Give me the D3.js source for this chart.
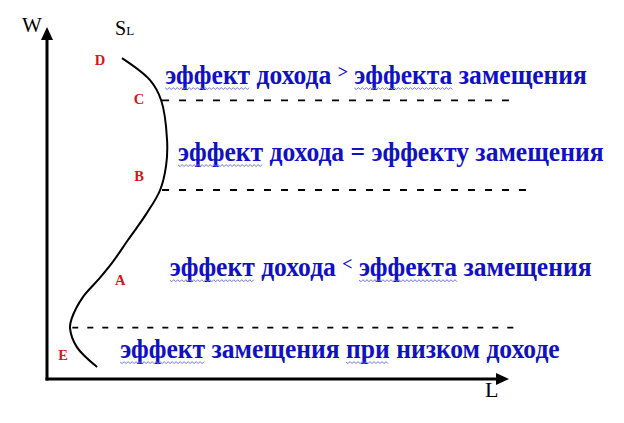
<!DOCTYPE html>
<html><head><meta charset="utf-8">
<script src="https://cdn.jsdelivr.net/npm/d3@7"></script>
<style>html,body{margin:0;padding:0;background:#fff;}svg{display:block;}</style>
</head><body>
<svg id="c" width="624" height="423"></svg>
<script>
// Supply curve S_L (L = labour, W = wage), schematic units
const curveL = [1.63, 2.24, 2.48, 2.61, 2.59, 2.46, 2.17, 1.76, 1.41, 1.11, 0.78, 0.54, 0.50, 0.65, 1.09];
const curveW = [9.17, 8.54, 7.97, 6.83, 6.11, 5.40, 4.74, 3.97, 3.31, 2.83, 2.34, 1.74, 1.46, 0.91, 0.34];

// Point labels on the curve
const pointNames = ["D", "C", "B", "A", "E"];
const pointL = [1.15, 2.00, 2.00, 1.59, 0.35];
const pointW = [9.11, 8.00, 5.80, 2.83, 0.69];

// Dashed threshold levels
const levelW = [7.96, 5.40, 1.47];
const levelStartL = [2.50, 2.50, 0.55];
const levelEndL = [10.15, 10.43, 10.33];

// Region captions (segments; wavy = spell-check underline, sup = raised sign)
const captions = [
  [{t:"эффект", wavy:true}, {t:" дохода "}, {t:">", sup:true}, {t:" "}, {t:"эффекта", wavy:true}, {t:" замещения"}],
  [{t:"эффект", wavy:true}, {t:" дохода = эффекту замещения"}],
  [{t:"эффект", wavy:true}, {t:" дохода "}, {t:"<", sup:true}, {t:" "}, {t:"эффекта", wavy:true}, {t:" замещения"}],
  [{t:"эффект", wavy:true}, {t:" замещения "}, {t:"при", wavy:true}, {t:" низком доходе"}]
];
const captionL = [2.57, 2.85, 2.67, 1.59];
const captionW = [8.43, 6.23, 2.94, 0.60];

const axisLabels = ["W", "L"];

const svg = d3.select("#c");
const x = d3.scaleLinear().domain([0, 10]).range([47, 507]);
const y = d3.scaleLinear().domain([0, 10]).range([379, 29]);
const serif = '"Liberation Serif"';

// Axes
svg.append("line").attr("x1", x(0)).attr("x2", x(0)).attr("y1", y(0) + 1.5).attr("y2", 36)
  .attr("stroke", "#000").attr("stroke-width", 3);
svg.append("line").attr("x1", x(0) - 1.5).attr("x2", 497).attr("y1", y(0)).attr("y2", y(0))
  .attr("stroke", "#000").attr("stroke-width", 3);
svg.append("path").attr("d", `M${x(0)},27 L${x(0)+6},40 L${x(0)-6},40 Z`).attr("fill", "#000");
svg.append("path").attr("d", `M509,${y(0)} L496,${y(0)-6} L496,${y(0)+6} Z`).attr("fill", "#000");

svg.append("text").attr("x", 22).attr("y", 32).style("font-family", serif).attr("font-size", 21).text(axisLabels[0]);
svg.append("text").attr("x", 485).attr("y", 397).style("font-family", serif).attr("font-size", 22).text(axisLabels[1]);
const sl = svg.append("text").attr("x", 115).attr("y", 35).style("font-family", serif).attr("font-size", 20);
sl.append("tspan").text("S");
sl.append("tspan").attr("font-size", 13).text("L");

// Dashed levels
svg.selectAll("line.level").data(levelW).join("line").attr("class", "level")
  .attr("x1", (d, i) => x(levelStartL[i])).attr("x2", (d, i) => x(levelEndL[i]))
  .attr("y1", d => y(d)).attr("y2", d => y(d))
  .attr("stroke", "#000").attr("stroke-width", 1.8)
  .attr("stroke-dasharray", (d, i) => i === 2 ? "6,9" : "7,10");

// Curve
const pts = curveL.map((l, i) => [l, curveW[i]]);
svg.append("path").datum(pts)
  .attr("d", d3.line().x(d => x(d[0])).y(d => y(d[1])).curve(d3.curveCatmullRom.alpha(0.5)))
  .attr("fill", "none").attr("stroke", "#000").attr("stroke-width", 2);

// Point labels
svg.selectAll("text.pt").data(pointNames).join("text").attr("class", "pt")
  .attr("x", (d, i) => x(pointL[i])).attr("y", (d, i) => y(pointW[i]) + 5)
  .attr("text-anchor", "middle")
  .style("font-family", serif).attr("font-weight", "bold").attr("font-size", 14.5)
  .attr("fill", "#d01818").text(d => d);

// Captions
const blue = "#1010c4";
captions.forEach((segs, ci) => {
  const tx = x(captionL[ci]), ty = y(captionW[ci]);
  const g = svg.append("g").attr("transform", `translate(0,${ty}) scale(1,1.08) translate(0,${-ty})`);
  const t = g.append("text").attr("x", tx).attr("y", ty)
    .style("font-family", serif).attr("font-weight", "bold").attr("font-size", 25.6)
    .attr("fill", blue);
  segs.forEach(s => {
    const sp = t.append("tspan").text(s.t);
    if (s.sup) sp.attr("font-size", 18).attr("baseline-shift", "6");
  });
  let idx = 0;
  segs.forEach(s => {
    const n = s.t.length;
    if (s.wavy) {
      const node = t.node();
      const x0 = node.getStartPositionOfChar(idx).x;
      const x1 = node.getEndPositionOfChar(idx + n - 1).x;
      const yy = ty + 4;
      let d = `M${x0},${yy}`;
      let k = 0;
      for (let xx = x0 + 2; xx <= x1; xx += 2, k++) {
        d += ` L${xx},${yy + (k % 2 === 0 ? 1.6 : -0.4)}`;
      }
      svg.append("path").attr("d", d).attr("fill", "none")
        .attr("stroke", "#6f6fe2").attr("stroke-width", 1);
    }
    idx += n;
  });
});
</script>
</body></html>
